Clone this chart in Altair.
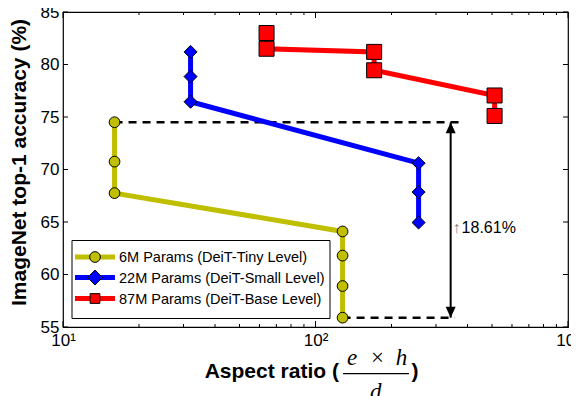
import altair as alt
import pandas as pd

# ---------------- data ----------------
series_names = [
    "6M Params (DeiT-Tiny Level)",
    "22M Params (DeiT-Small Level)",
    "87M Params (DeiT-Base Level)",
]
series_colors = ["#bfbf00", "#0000ff", "#ff0000"]
DIAMOND = "M-1,0L0,-1L1,0L0,1Z"
series_shapes = ["circle", DIAMOND, "square"]
series_sizes = [115, 225, 95]

ratio_tiny = [16, 16, 16, 128, 128, 128, 128]
acc_tiny = [74.5, 70.75, 67.75, 64.1, 61.8, 58.9, 55.89]

ratio_small = [32, 32, 32, 256, 256, 256]
acc_small = [81.2, 78.85, 76.45, 70.6, 67.85, 64.95]

ratio_base = [64, 64, 170.7, 170.7, 512, 512]
acc_base = [83.0, 81.5, 81.2, 79.45, 77.05, 75.1]

# dashed reference lines: (x start, x end, y)
dash_x = [16, 128]
dash_x2 = [378, 356]
dash_y = [74.5, 55.89]

# double arrow
arrow_x = [343]
arrow_top = [74.5]
arrow_bottom = [55.89]

# annotation
ann_text = ["18.61%"]
ann_x = [379]
ann_arrow_x = [362]
ann_y = [63.95]

x_major = [10, 100, 1000]
x_minor = [20, 30, 40, 50, 60, 70, 80, 90, 200, 300, 400, 500, 600, 700, 800, 900]
y_ticks = [55, 60, 65, 70, 75, 80, 85]

# ---------------- tables ----------------
rows = []
for name, xs, ys in zip(series_names, [ratio_tiny, ratio_small, ratio_base],
                        [acc_tiny, acc_small, acc_base]):
    for i, (a, b) in enumerate(zip(xs, ys)):
        rows.append({"x": a, "y": b, "series": name, "idx": i})
df = pd.DataFrame(rows)

W, H = 505, 315
FONT = "Liberation Sans"

xscale = alt.Scale(type="log", domain=[10, 1000], nice=False)
yscale = alt.Scale(domain=[55, 85], nice=False, zero=False)

xaxis = alt.Axis(
    values=x_major,
    labelExpr="datum.value == 10 ? '10\u00b9' : datum.value == 100 ? '10\u00b2' : '10\u00b3'",
    ticks=False, domain=False, grid=False,
    labelFont=FONT, labelFontSize=17, labelColor="black", labelPadding=5,
    labelFlush=False, labelOverlap=False, title=None,
)
yaxis = alt.Axis(
    values=y_ticks, ticks=False, domain=False, grid=False,
    labelFont=FONT, labelFontSize=17, labelColor="black", labelPadding=4,
    labelFlush=False, labelOverlap=False,
    title="ImageNet top-1 accuracy (%)", titleFont=FONT, titleFontSize=21,
    titleFontWeight="bold", titleColor="black", titleAngle=270,
    titleX=-38, titleY=150, titleAlign="center", titleBaseline="alphabetic",
)


def X(field="x"):
    return alt.X(f"{field}:Q", scale=xscale, axis=xaxis)


def Y(field="y"):
    return alt.Y(f"{field}:Q", scale=yscale, axis=yaxis)


color_scale = alt.Scale(domain=series_names, range=series_colors)

lines = alt.Chart(df).mark_line(strokeWidth=5).encode(
    x=X(), y=Y(),
    color=alt.Color("series:N", scale=color_scale, legend=None),
    detail="series:N",
    order="idx:Q",
)

points = alt.Chart(df).mark_point(filled=True, stroke="black", strokeWidth=1, opacity=1).encode(
    x=X(), y=Y(),
    color=alt.Color("series:N", scale=color_scale, legend=None),
    shape=alt.Shape("series:N", scale=alt.Scale(domain=series_names, range=series_shapes), legend=None),
    size=alt.Size("series:O", scale=alt.Scale(domain=series_names, range=series_sizes), legend=None),
)

dash_df = pd.DataFrame({"x": dash_x, "x2": dash_x2, "y": dash_y})
dashes = alt.Chart(dash_df).mark_rule(color="black", strokeWidth=2.5, strokeDash=[8, 6]).encode(
    x=X(), x2="x2:Q", y=Y(),
)

arrow_df = pd.DataFrame({"x": arrow_x, "y": arrow_top, "y2": arrow_bottom})
arrow_line = alt.Chart(arrow_df).mark_rule(color="black", strokeWidth=2).encode(
    x=X(), y=Y(), y2="y2:Q",
)
head_up = alt.Chart(pd.DataFrame({"x": arrow_x, "y": arrow_top})).mark_point(
    shape="M0,0L-1,2.2L1,2.2Z", filled=True, fill="black", strokeWidth=0, size=100, opacity=1
).encode(x=X(), y=Y())
head_down = alt.Chart(pd.DataFrame({"x": arrow_x, "y": arrow_bottom})).mark_point(
    shape="M0,0L-1,-2.2L1,-2.2Z", filled=True, fill="black", strokeWidth=0, size=100, opacity=1
).encode(x=X(), y=Y())

ann_df = pd.DataFrame({"x": ann_x, "y": ann_y, "t": ann_text})
ann = alt.Chart(ann_df).mark_text(
    align="left", baseline="alphabetic", font=FONT, fontSize=16, color="black"
).encode(x=X(), y=Y(), text="t:N")
ann_arr_df = pd.DataFrame({"x": ann_arrow_x, "y": ann_y, "t": ["\u2191"]})
ann_arr = alt.Chart(ann_arr_df).mark_text(
    align="center", baseline="alphabetic", font=FONT, fontSize=16, color="#7f7f7f"
).encode(x=X(), y=Y(), text="t:N")

# ---------------- inward ticks ----------------
tick_layers = []
for vals, ln in [(x_major, 6), (x_minor, 3)]:
    tdf = pd.DataFrame({"x": vals})
    tick_layers.append(alt.Chart(tdf).mark_rule(color="black", strokeWidth=1).encode(
        x=X(), y=alt.value(H), y2=alt.value(H - ln)))
    tick_layers.append(alt.Chart(tdf).mark_rule(color="black", strokeWidth=1).encode(
        x=X(), y=alt.value(0), y2=alt.value(ln)))
ydf = pd.DataFrame({"y": y_ticks})
tick_layers.append(alt.Chart(ydf).mark_rule(color="black", strokeWidth=1).encode(
    y=Y(), x=alt.value(0), x2=alt.value(5)))
tick_layers.append(alt.Chart(ydf).mark_rule(color="black", strokeWidth=1).encode(
    y=Y(), x=alt.value(W), x2=alt.value(W - 5)))

# ---------------- legend (drawn) ----------------
one = pd.DataFrame({"k": [0]})
legend_layers = [
    alt.Chart(one).mark_rect(fill="white", stroke="black", strokeWidth=1).encode(
        x=alt.value(9), x2=alt.value(267), y=alt.value(228.5), y2=alt.value(306.5))
]
row_y = [245, 265.5, 286.5]
for name, col, shp, sz, ry in zip(series_names, series_colors, series_shapes, series_sizes, row_y):
    ldf = pd.DataFrame({"label": [name]})
    legend_layers.append(alt.Chart(ldf).mark_rule(color=col, strokeWidth=5).encode(
        x=alt.value(12), x2=alt.value(52), y=alt.value(ry)))
    legend_layers.append(alt.Chart(ldf).mark_point(
        shape=shp, filled=True, fill=col, stroke="black", strokeWidth=1, size=sz, opacity=1
    ).encode(x=alt.value(32), y=alt.value(ry)))
    legend_layers.append(alt.Chart(ldf).mark_text(
        align="left", baseline="middle", font=FONT, fontSize=14.5, color="black"
    ).encode(x=alt.value(56), y=alt.value(ry + 1), text="label:N"))

# ---------------- x title with fraction ----------------
t_layers = []


def txt(s, x, y, **kw):
    return alt.Chart(pd.DataFrame({"s": [s]})).mark_text(**kw).encode(
        x=alt.value(x), y=alt.value(y), text="s:N")


t_layers.append(txt("Aspect ratio (", 141.7, 365.6, align="left", baseline="alphabetic",
                    font=FONT, fontSize=21, fontWeight="bold", color="black"))
t_layers.append(txt(")", 348.5, 365.6, align="left", baseline="alphabetic",
                    font=FONT, fontSize=21, fontWeight="bold", color="black"))
serif = dict(align="center", baseline="alphabetic", font="Liberation Serif", fontSize=23,
             fontStyle="italic", color="black")
t_layers.append(txt("e", 289.2, 352.8, **serif))
t_layers.append(txt("\u00d7", 314.5, 352.8, align="center", baseline="alphabetic",
                    font="Liberation Serif", fontSize=23, color="black"))
t_layers.append(txt("h", 338.4, 352.8, **serif))
t_layers.append(txt("d", 312.7, 386.5, **serif))
t_layers.append(alt.Chart(one).mark_rule(color="black", strokeWidth=1.3).encode(
    x=alt.value(280), x2=alt.value(346), y=alt.value(361.6)))

chart = alt.layer(
    *tick_layers, dashes, lines, arrow_line, head_up, head_down, points,
    ann_arr, ann, *legend_layers, *t_layers
).properties(
    width=W, height=H,
    autosize=alt.AutoSizeParams(type="none"),
    padding={"left": 55, "top": 4, "right": 3, "bottom": 69},
).configure_view(stroke="black", strokeWidth=1.2)

chart.save("out.html", embed_options={"renderer": "svg", "actions": False})
